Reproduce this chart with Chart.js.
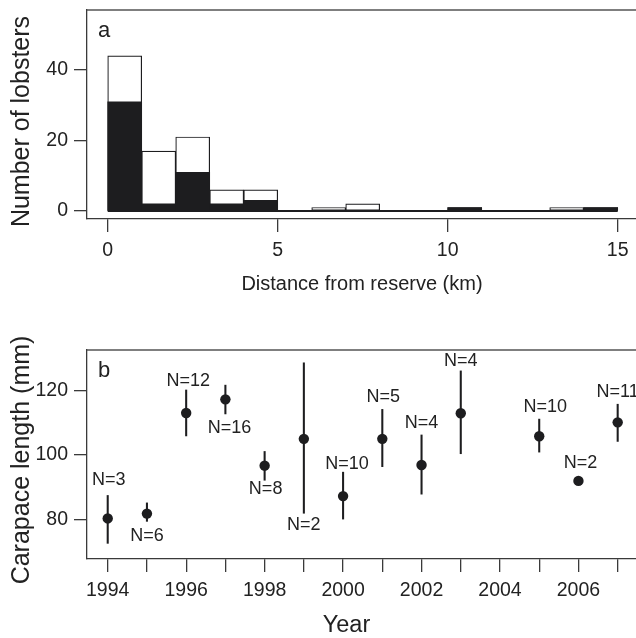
<!DOCTYPE html>
<html>
<head>
<meta charset="utf-8">
<script src="https://cdn.jsdelivr.net/npm/chart.js@4.4.1/dist/chart.umd.min.js"></script>
<style>
  html, body { margin: 0; padding: 0; background: #fff; overflow: hidden; }
  canvas { display: block; }
</style>
</head>
<body>
<canvas id="histCanvas" width="636" height="300"></canvas>
<canvas id="yearCanvas" width="636" height="338"></canvas>
<script>
// panel a: histogram of lobsters by distance from reserve (1 km bins)
var binLeft = [0, 1, 2, 3, 4, 5, 6, 7, 8, 9, 10, 11, 12, 13, 14];
var binWidth = 1;
var allLobsters = [44, 17, 21, 6, 6, 0, 1, 2, 0, 0, 1, 0, 0, 1, 1];
var taggedLobsters = [31, 2, 11, 2, 3, 0, 0, 0, 0, 0, 1, 0, 0, 0, 1];
var distanceTicks = [0, 5, 10, 15];
var countTicks = [0, 20, 40];

// panel b: mean carapace length per year with range
var years = [1994, 1995, 1996, 1997, 1998, 1999, 2000, 2001, 2002, 2003, 2005, 2006, 2007];
var meanLength = [80.4, 81.9, 113.0, 117.2, 96.7, 105.0, 87.3, 105.0, 96.9, 112.9, 105.8, 92.0, 110.1];
var lowLength = [72.7, 79.5, 105.9, 112.7, 92.2, 82.0, 80.2, 96.4, 87.9, 100.4, 100.9, 92.0, 104.2];
var highLength = [87.5, 85.2, 120.1, 121.6, 101.1, 128.5, 94.7, 114.1, 106.2, 126.0, 111.1, 92.0, 115.7];
var sampleSize = [3, 6, 12, 16, 8, 2, 10, 5, 4, 4, 10, 2, 11];
var yearTicks = [1994, 1995, 1996, 1997, 1998, 1999, 2000, 2001, 2002, 2003, 2004, 2005, 2006, 2007];
var yearTickLabels = ['1994', '', '1996', '', '1998', '', '2000', '', '2002', '', '2004', '', '2006', ''];
var lengthTicks = [80, 100, 120];

var FONT = "'Liberation Sans', Arial, Helvetica, sans-serif";
var INK = '#1d1d1f';
var AXIS = '#3a3a3a';

Chart.defaults.font.family = FONT;
Chart.defaults.color = '#222';

// fixed axis box: width for y, height for x, no extra label padding
function fixBox(size) {
  return function (s) {
    if (s.isHorizontal()) { s.height = size; } else { s.width = size; }
    s.paddingTop = s.paddingBottom = s.paddingLeft = s.paddingRight = 0;
  };
}

function axisOpts(ticks, labels, min, max, pad, boxSize) {
  return {
    type: 'linear',
    min: min,
    max: max,
    offset: false,
    afterBuildTicks: function (scale) {
      scale.ticks = ticks.map(function (v) { return { value: v }; });
    },
    afterFit: fixBox(boxSize),
    grid: { offset: false, drawOnChartArea: false, drawTicks: true, tickLength: 13, color: AXIS, lineWidth: 1.3 },
    border: { display: true, color: AXIS, width: 1.3 },
    ticks: {
      autoSkip: false,
      maxRotation: 0,
      padding: pad,
      font: { size: 19.5 },
      color: '#222',
      callback: function (v, i) { return labels ? labels[i] : String(v); }
    }
  };
}

// top line of the frame (left & bottom come from the axis borders)
var framePlugin = {
  id: 'frame',
  afterDraw: function (chart) {
    var a = chart.chartArea, ctx = chart.ctx;
    ctx.save();
    ctx.strokeStyle = '#555';
    ctx.lineWidth = 1.3;
    ctx.beginPath();
    ctx.moveTo(a.left, a.top);
    ctx.lineTo(a.right, a.top);
    ctx.stroke();
    ctx.restore();
  }
};

// text: panel letter and axis titles
var textPlugin = {
  id: 'texts',
  afterDraw: function (chart, args, opts) {
    var a = chart.chartArea, ctx = chart.ctx;
    ctx.save();
    ctx.fillStyle = '#222';
    ctx.textBaseline = 'alphabetic';
    ctx.font = '22px ' + FONT;
    ctx.textAlign = 'left';
    ctx.fillText(opts.letter, a.left + 11, a.top + 26.5);

    ctx.font = opts.xSize + 'px ' + FONT;
    ctx.textAlign = 'center';
    ctx.fillText(opts.xTitle, opts.xTitleX, opts.xTitleY);

    ctx.font = '25px ' + FONT;
    ctx.translate(29, opts.yTitleY);
    ctx.rotate(-Math.PI / 2);
    ctx.fillText(opts.yTitle, 0, 0);
    ctx.restore();
  }
};

// black zero line under the histogram
var baselinePlugin = {
  id: 'baseline',
  afterDatasetsDraw: function (chart) {
    var x = chart.scales.x, y = chart.scales.y, ctx = chart.ctx;
    var y0 = y.getPixelForValue(0);
    ctx.save();
    ctx.strokeStyle = INK;
    ctx.lineWidth = 2;
    ctx.beginPath();
    ctx.moveTo(x.getPixelForValue(binLeft[0]), y0);
    ctx.lineTo(x.getPixelForValue(binLeft[binLeft.length - 1] + binWidth), y0);
    ctx.stroke();
    ctx.restore();
  }
};

new Chart(document.getElementById('histCanvas'), {
  type: 'bar',
  data: {
    datasets: [{
      label: 'tagged',
      data: binLeft.map(function (b, i) { return { x: b + binWidth / 2, y: taggedLobsters[i] }; }),
      backgroundColor: INK,
      borderWidth: 0,
      grouped: false,
      barPercentage: 1,
      categoryPercentage: 1
    }, {
      label: 'all',
      data: binLeft.map(function (b, i) { return { x: b + binWidth / 2, y: allLobsters[i] }; }),
      backgroundColor: '#fff',
      borderColor: INK,
      borderWidth: 1.2,
      borderSkipped: false,
      grouped: false,
      barPercentage: 1,
      categoryPercentage: 1
    }]
  },
  options: {
    responsive: false,
    animation: false,
    events: [],
    layout: { autoPadding: false, padding: { top: 10, left: 0, right: 0, bottom: 0 } },
    plugins: {
      legend: { display: false },
      tooltip: { enabled: false },
      texts: {
        letter: 'a',
        xTitle: 'Distance from reserve (km)', xSize: 20, xTitleX: 362, xTitleY: 289.5,
        yTitle: 'Number of lobsters', yTitleY: 121.5
      }
    },
    scales: {
      x: axisOpts(distanceTicks, null, -0.609, 15.538, 7, 81),
      y: axisOpts(countTicks, null, -2.27, 57.02, 6, 87)
    }
  },
  plugins: [framePlugin, textPlugin, baselinePlugin]
});

// N labels next to each range; negative = above the top, positive = below the bottom
var labelGap = [-15, 15, -9, 14, 9, 12, -8, -12, -12, -10, -12, -18, -12];
var labelShift = [1, 0, 2, 4, 1, 0, 4, 1, 0, 0, 6, 2, 0];

var nLabelPlugin = {
  id: 'nLabels',
  afterDatasetsDraw: function (chart) {
    var x = chart.scales.x, y = chart.scales.y, ctx = chart.ctx;
    ctx.save();
    ctx.fillStyle = '#222';
    ctx.font = '18px ' + FONT;
    ctx.textAlign = 'center';
    ctx.textBaseline = 'middle';
    years.forEach(function (yr, i) {
      var g = labelGap[i];
      var py = g < 0 ? y.getPixelForValue(highLength[i]) + g : y.getPixelForValue(lowLength[i]) + g;
      ctx.fillText('N=' + sampleSize[i], x.getPixelForValue(yr) + labelShift[i], py);
    });
    ctx.restore();
  }
};

new Chart(document.getElementById('yearCanvas'), {
  type: 'scatter',
  data: {
    datasets: [{
      label: 'mean',
      data: years.map(function (yr, i) { return { x: yr, y: meanLength[i] }; }),
      backgroundColor: INK,
      borderWidth: 0,
      pointRadius: 5.2
    }, {
      type: 'bar',
      label: 'range',
      data: years.map(function (yr, i) { return { x: yr, y: [lowLength[i], highLength[i]] }; }),
      backgroundColor: INK,
      borderWidth: 0,
      barThickness: 1.4,
      grouped: false
    }]
  },
  options: {
    responsive: false,
    animation: false,
    events: [],
    layout: { autoPadding: false, padding: { top: 50, left: 0, right: 0, bottom: 0 } },
    plugins: {
      legend: { display: false },
      tooltip: { enabled: false },
      texts: {
        letter: 'b',
        xTitle: 'Year', xSize: 23.5, xTitleX: 346.5, xTitleY: 332,
        yTitle: 'Carapace length (mm)', yTitleY: 160
      }
    },
    scales: {
      x: axisOpts(yearTicks, yearTickLabels, 1993.472, 2007.467, 7, 79),
      y: axisOpts(lengthTicks, null, 67.86, 132.46, 6, 87)
    }
  },
  plugins: [framePlugin, textPlugin, nLabelPlugin]
});
</script>
</body>
</html>
